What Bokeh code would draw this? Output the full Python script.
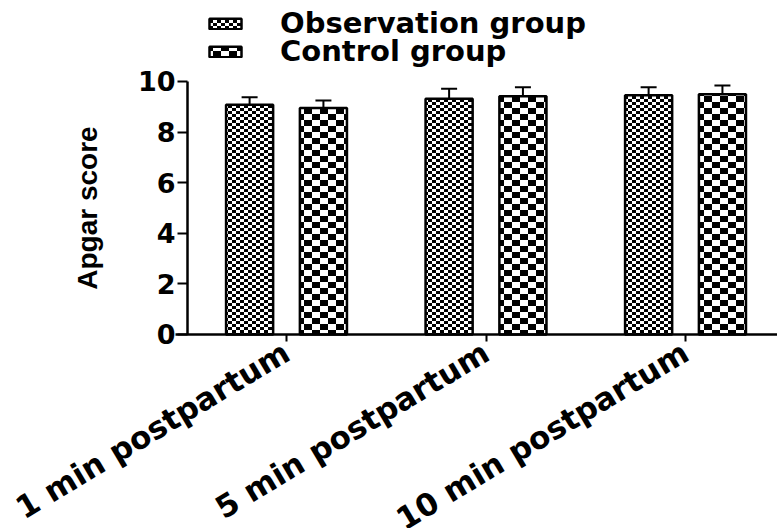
import math
import zlib
import struct
import base64
from bokeh.plotting import figure
from bokeh.models import (ColumnDataSource, Range1d, FixedTicker, Whisker, TeeHead,
                          Legend, LegendItem, ImageURLTexture)
from bokeh.core.properties import value
from bokeh.embed import file_html
from bokeh.resources import INLINE

# ---- data ----
categories = ["1 min postpartum", "5 min postpartum", "10 min postpartum"]
series_names = ["Observation group", "Control group"]
obs_mean = [9.08, 9.32, 9.45]
obs_sd = [0.30, 0.39, 0.32]
ctrl_mean = [8.95, 9.42, 9.49]
ctrl_sd = [0.30, 0.35, 0.35]
y_ticks = [0, 2, 4, 6, 8, 10]
y_label = "Apgar score"

# ---- layout constants ----
BAR_W = 0.236
OFFSET = 0.185
X_VIEW = (-1.4336, 2.461)      # whole canvas width is the plotting frame
Y_AXIS_X = -0.496              # where the y axis sits
X_AXIS_START = -0.556          # x axis line starts a little left of the y axis
Y_AXIS_MIN, Y_AXIS_MAX = 0, 10
Y_VIEW = (-7.67, 13.2)         # room below for the category labels, above for the legend

idx = list(range(len(categories)))


def make_source(means, sds, off):
    return ColumnDataSource(dict(
        x=[i + off for i in idx],
        mean=means,
        top=[m + s for m, s in zip(means, sds)],
    ))


src_obs = make_source(obs_mean, obs_sd, -OFFSET)
src_ctrl = make_source(ctrl_mean, ctrl_sd, OFFSET)


def checker_png(cw, ch, nx, ny):
    W, H = cw * nx, ch * ny
    rows = []
    for y in range(H):
        row = bytearray([0])
        for x in range(W):
            black = ((x // cw) + (y // ch)) % 2 == 0
            row += bytes([0, 0, 0, 255]) if black else bytes([255, 255, 255, 255])
        rows.append(bytes(row))
    raw = b"".join(rows)

    def chunk(t, d):
        c = struct.pack(">I", len(d)) + t + d
        return c + struct.pack(">I", zlib.crc32(t + d) & 0xFFFFFFFF)

    png = (b"\x89PNG\r\n\x1a\n"
           + chunk(b"IHDR", struct.pack(">IIBBBBB", W, H, 8, 6, 0, 0, 0))
           + chunk(b"IDAT", zlib.compress(raw))
           + chunk(b"IEND", b""))
    return "data:image/png;base64," + base64.b64encode(png).decode()


tex_fine = ImageURLTexture(url=checker_png(4, 3, 2, 2), repetition="repeat")
tex_coarse = ImageURLTexture(url=checker_png(8, 6, 2, 2), repetition="repeat")

p = figure(width=777, height=528, output_backend="svg", toolbar_location=None,
           x_range=Range1d(*X_VIEW), y_range=Range1d(*Y_VIEW),
           min_border_left=0, min_border_right=0, min_border_top=0,
           min_border_bottom=0)
p.outline_line_color = None
p.grid.visible = False
p.background_fill_color = "white"
p.border_fill_color = "white"

r_obs = p.vbar(x="x", top="mean", width=BAR_W, source=src_obs,
               fill_color="white", line_color="black", line_width=2.5,
               hatch_pattern=value("chk_fine"), hatch_color="black",
               hatch_extra={"chk_fine": tex_fine})
r_ctrl = p.vbar(x="x", top="mean", width=BAR_W, source=src_ctrl,
                fill_color="white", line_color="black", line_width=2.5,
                hatch_pattern=value("chk_coarse"), hatch_color="black",
                hatch_extra={"chk_coarse": tex_coarse})

for src in (src_obs, src_ctrl):
    w = Whisker(source=src, base="x", lower="mean", upper="top", dimension="height",
                line_color="black", line_width=2,
                upper_head=TeeHead(size=16, line_width=2, line_color="black"),
                lower_head=None)
    p.add_layout(w)

# x axis, pinned at y = 0
xa = p.xaxis[0]
xa.fixed_location = Y_AXIS_MIN
xa.bounds = (X_AXIS_START, X_VIEW[1])
xa.ticker = FixedTicker(ticks=idx)
xa.major_label_overrides = {i: c for i, c in zip(idx, categories)}
xa.major_label_orientation = math.radians(31)
xa.axis_line_width = 2.5
xa.major_tick_line_width = 2
xa.major_tick_out = 7
xa.major_tick_in = 0
xa.minor_tick_out = 0
xa.major_label_standoff = 8
xa.major_label_text_font = "DejaVu Sans"
xa.major_label_text_font_style = "bold"
xa.major_label_text_font_size = "31px"
xa.major_label_text_color = "black"

# y axis, pinned inside the frame
ya = p.yaxis[0]
ya.fixed_location = Y_AXIS_X
ya.ticker = FixedTicker(ticks=y_ticks)
ya.bounds = (Y_AXIS_MIN, Y_AXIS_MAX)
ya.axis_line_width = 2.5
ya.major_tick_line_width = 2
ya.major_tick_out = 10
ya.major_tick_in = 0
ya.minor_tick_out = 0
ya.minor_tick_in = 0
ya.major_label_standoff = 2
ya.major_label_text_font = "DejaVu Sans"
ya.major_label_text_font_style = "bold"
ya.major_label_text_font_size = "27px"
ya.major_label_text_color = "black"
ya.axis_label = y_label
ya.axis_label_text_font = "Liberation Sans"
ya.axis_label_text_font_style = "bold"
ya.axis_label_text_font_size = "28px"
ya.axis_label_text_color = "black"
ya.axis_label_standoff = 32


def make_legend(label, renderer, loc):
    return Legend(items=[LegendItem(label=label, renderers=[renderer])],
                  location=loc, orientation="vertical",
                  glyph_width=40, glyph_height=13, label_standoff=35,
                  label_text_font="DejaVu Sans", label_text_font_style="bold",
                  label_text_font_size="29px", label_text_color="black",
                  padding=0, margin=0, spacing=0,
                  border_line_color=None, background_fill_alpha=0)


p.add_layout(make_legend(series_names[0], r_obs, (205, 488)), "center")
p.add_layout(make_legend(series_names[1], r_ctrl, (205, 460)), "center")

open("out.html", "w").write(file_html(p, INLINE))
